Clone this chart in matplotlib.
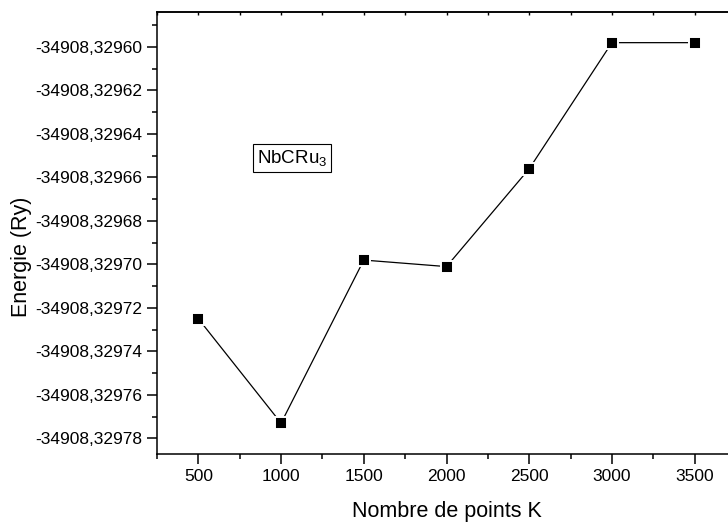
import matplotlib
matplotlib.use("Agg")
import matplotlib.pyplot as plt
from matplotlib.ticker import MultipleLocator, FuncFormatter

plt.rcParams['font.family'] = ['Liberation Sans', 'DejaVu Sans']
plt.rcParams['mathtext.fontset'] = 'custom'
plt.rcParams['mathtext.rm'] = 'Liberation Sans'
plt.rcParams['mathtext.it'] = 'Liberation Sans:italic'

k_points = [500, 1000, 1500, 2000, 2500, 3000, 3500]
energy = [-34908.329725, -34908.329773, -34908.329698, -34908.329701,
          -34908.329656, -34908.329598, -34908.329598]

fig = plt.figure(figsize=(7.28, 5.24), dpi=100)
W, H = 728, 524
left, right, top, bottom = 157, 736, 12, 454
ax = fig.add_axes([left / W, 1 - bottom / H, (right - left) / W, (bottom - top) / H])

ax.plot(k_points, energy, color='black', lw=0.9, marker='s', ms=8.6,
        markerfacecolor='black', markeredgecolor='white', markeredgewidth=1.4)

ax.set_xlim(250, 3750)
ax.set_ylim(-34908.3297872, -34908.3295839)

ax.xaxis.set_major_locator(MultipleLocator(500))
ax.xaxis.set_minor_locator(MultipleLocator(250))
ax.yaxis.set_major_locator(MultipleLocator(0.00002))
ax.yaxis.set_minor_locator(MultipleLocator(0.00001))
ax.yaxis.set_major_formatter(FuncFormatter(lambda v, p: f"{v:.5f}".replace('.', ',')))
ax.xaxis.set_major_formatter(FuncFormatter(lambda v, p: f"{int(round(v))}"))

for s in ax.spines.values():
    s.set_linewidth(1.1)

ax.tick_params(axis='both', which='major', direction='out', length=7, width=1.1,
               labelsize=12.5, pad=3.5, top=False, right=False)
ax.tick_params(axis='both', which='minor', direction='out', length=3.5, width=1.1,
               top=False, right=False)

sec = ax.secondary_xaxis('top')
sec.xaxis.set_major_locator(MultipleLocator(250))
sec.tick_params(direction='in', length=2, width=1.0, labeltop=False)
sec.spines['top'].set_linewidth(1.1)

ax.set_xlabel('Nombre de points K', fontsize=15.5)
ax.xaxis.set_label_coords(0.5, -(511 - bottom) / (bottom - top), transform=ax.transAxes)
ax.xaxis.label.set_va('center')
ax.set_ylabel('Energie (Ry)', fontsize=15.5)
ax.yaxis.set_label_coords(-(left - 22) / (right - left), (bottom - 257) / (bottom - top),
                          transform=ax.transAxes)
ax.yaxis.label.set_va('center')

ax.text((292 - left) / (right - left), (bottom - 158) / (bottom - top), r'NbCRu$_3$',
        transform=ax.transAxes, fontsize=13.5, ha='center', va='center',
        bbox=dict(boxstyle='square,pad=0.2', facecolor='white', edgecolor='black', lw=0.8))

fig.savefig('out.png', dpi=100)
